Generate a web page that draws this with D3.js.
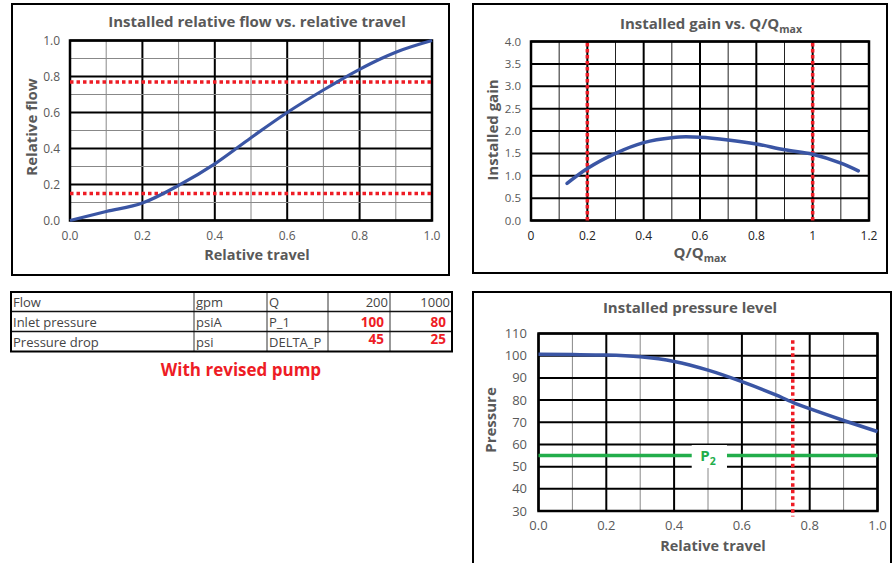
<!DOCTYPE html>
<html>
<head>
<meta charset="utf-8">
<script src="https://cdn.jsdelivr.net/npm/d3@7"></script>
<style>
  body { margin: 0; background: #fff; }
  svg { display: block; }
  text { font-family: "Open Sans", "DejaVu Sans", sans-serif; }
</style>
</head>
<body>
<svg id="chart" width="896" height="563"></svg>
<script>
// ---- data ----
// chart 1: installed relative flow vs. relative travel
const flowTravel = [0, 0.1, 0.2, 0.3, 0.4, 0.5, 0.6, 0.7, 0.8, 0.86, 0.9, 1.0];
const flowValues = [0, 0.05, 0.097, 0.195, 0.315, 0.46, 0.6, 0.725, 0.84, 0.9, 0.935, 1.0];
const flowLimits = [0.77, 0.15];
const flowTicks = [0, 0.2, 0.4, 0.6, 0.8, 1.0];

// chart 2: installed gain vs. Q/Qmax
const gainQ = [0.128, 0.2, 0.3, 0.4, 0.5, 0.55, 0.6, 0.7, 0.8, 0.9, 1.0, 1.1, 1.162];
const gainValues = [0.83, 1.16, 1.5, 1.74, 1.85, 1.87, 1.86, 1.8, 1.71, 1.58, 1.48, 1.28, 1.11];
const gainLimits = [0.2, 1.0];
const gainXTicks = [0, 0.2, 0.4, 0.6, 0.8, 1, 1.2];
const gainYTicks = [0, 0.5, 1, 1.5, 2, 2.5, 3, 3.5, 4];

// chart 3: installed pressure level
const pressTravel = [0, 0.1, 0.2, 0.3, 0.4, 0.5, 0.6, 0.7, 0.75, 0.8, 0.9, 1.0];
const pressValues = [100.6, 100.5, 100.3, 99.5, 97.4, 93.5, 88.3, 82.3, 79.0, 76.1, 70.8, 65.8];
const pressYTicks = [30, 40, 50, 60, 70, 80, 90, 100, 110];
const pressXTicks = [0, 0.2, 0.4, 0.6, 0.8, 1.0];
const p2Level = 55;
const travelMark = 0.75;
const travelMarkSpan = [27.5, 107];

// table
const tableRows = [
  ["Flow", "gpm", "Q", "200", "1000"],
  ["Inlet pressure", "psiA", "P_1", "100", "80"],
  ["Pressure drop", "psi", "DELTA_P", "45", "25"]
];
const tableCols = [11, 194, 267, 328, 390, 452];
const tableRowY = [292, 311.5, 331.5, 351.5];

const BLUE = "#3a55a4";
const RED = "#ee1c25";
const GREEN = "#22ad4b";
const GRAY = "#595959";

const svg = d3.select("#chart");

// panel borders
const panels = [
  [12, 4, 437, 271],
  [473, 4, 414, 269],
  [473, 292, 418, 290]
];
svg.selectAll("rect.panel")
  .data(panels)
  .join("rect")
  .attr("class", "panel")
  .attr("x", d => d[0]).attr("y", d => d[1])
  .attr("width", d => d[2]).attr("height", d => d[3])
  .attr("fill", "none").attr("stroke", "#000").attr("stroke-width", 2);

// grid helper
function grid(g, x, y, xs, ys, style) {
  xs.forEach(v => {
    const s = style.x(v);
    g.append("line")
      .attr("x1", x(v)).attr("x2", x(v))
      .attr("y1", y.range()[0]).attr("y2", y.range()[1])
      .attr("stroke", s.c).attr("stroke-width", s.w);
  });
  ys.forEach(v => {
    const s = style.y(v);
    g.append("line")
      .attr("y1", y(v)).attr("y2", y(v))
      .attr("x1", x.range()[0]).attr("x2", x.range()[1])
      .attr("stroke", s.c).attr("stroke-width", s.w);
  });
}
const isMajor = (v, step) => Math.abs(Math.round(v / step) * step - v) < 1e-6;

// ---------------- chart 1 ----------------
{
  const x = d3.scaleLinear().domain([0, 1]).range([70, 432]);
  const y = d3.scaleLinear().domain([0, 1]).range([220.5, 40.5]);
  const g = svg.append("g");
  const steps = d3.range(0, 1.0001, 0.1);
  grid(g, x, y, steps, steps, {
    x: v => isMajor(v, 0.2) ? {c: "#000", w: 2} : {c: "#888", w: 1},
    y: v => isMajor(v, 0.2) ? {c: "#000", w: 2} : {c: "#888", w: 1}
  });
  g.append("rect").attr("x", 70).attr("y", 40.5).attr("width", 362).attr("height", 180)
    .attr("fill", "none").attr("stroke", "#000").attr("stroke-width", 2.5);

  flowLimits.forEach(v => {
    g.append("line").attr("x1", x(0)).attr("x2", x(1)).attr("y1", y(v)).attr("y2", y(v))
      .attr("stroke", RED).attr("stroke-width", 3.5).attr("stroke-dasharray", "3.5,3");
  });

  g.append("path")
    .datum(flowTravel.map((t, i) => [t, flowValues[i]]))
    .attr("d", d3.line().x(d => x(d[0])).y(d => y(d[1])).curve(d3.curveMonotoneX))
    .attr("fill", "none").attr("stroke", BLUE).attr("stroke-width", 3.2);

  g.selectAll("text.yt").data(flowTicks).join("text")
    .attr("x", 60).attr("y", d => y(d) + 4).attr("text-anchor", "end")
    .attr("font-size", 12).attr("fill", GRAY).text(d => d.toFixed(1));
  g.selectAll("text.xt").data(flowTicks).join("text")
    .attr("x", d => x(d)).attr("y", 240).attr("text-anchor", "middle")
    .attr("font-size", 12).attr("fill", GRAY).text(d => d.toFixed(1));

  g.append("text").attr("x", 257).attr("y", 27).attr("text-anchor", "middle")
    .attr("font-size", 15).attr("font-weight", "bold").attr("fill", GRAY)
    .text("Installed relative flow vs. relative travel");
  g.append("text").attr("x", 257).attr("y", 260).attr("text-anchor", "middle")
    .attr("font-size", 14.5).attr("font-weight", "bold").attr("fill", GRAY)
    .text("Relative travel");
  g.append("text").attr("transform", "translate(37,127) rotate(-90)").attr("text-anchor", "middle")
    .attr("font-size", 15).attr("font-weight", "bold").attr("fill", GRAY)
    .text("Relative flow");
}

// ---------------- chart 2 ----------------
{
  const x = d3.scaleLinear().domain([0, 1.2]).range([531, 869]);
  const y = d3.scaleLinear().domain([0, 4]).range([220.5, 41.5]);
  const g = svg.append("g");
  grid(g, x, y, d3.range(0, 1.2001, 0.1), gainYTicks, {
    x: v => isMajor(v, 0.2) ? {c: "#000", w: 2} : {c: "#222", w: 1},
    y: () => ({c: "#000", w: 2})
  });
  g.append("rect").attr("x", 531).attr("y", 41.5).attr("width", 338).attr("height", 179)
    .attr("fill", "none").attr("stroke", "#000").attr("stroke-width", 2.5);

  gainLimits.forEach(v => {
    g.append("line").attr("x1", x(v)).attr("x2", x(v)).attr("y1", y(0)).attr("y2", y(4))
      .attr("stroke", RED).attr("stroke-width", 3.5).attr("stroke-dasharray", "3.5,2.5");
  });

  g.append("path")
    .datum(gainQ.map((q, i) => [q, gainValues[i]]))
    .attr("d", d3.line().x(d => x(d[0])).y(d => y(d[1])).curve(d3.curveMonotoneX))
    .attr("fill", "none").attr("stroke", BLUE).attr("stroke-width", 3.5)
    .attr("stroke-linecap", "round");

  g.selectAll("text.yt").data(gainYTicks).join("text")
    .attr("x", 521).attr("y", d => y(d) + 4).attr("text-anchor", "end")
    .attr("font-size", 11.5).attr("fill", GRAY).text(d => d.toFixed(1));
  g.selectAll("text.xt").data(gainXTicks).join("text")
    .attr("x", d => x(d)).attr("y", 240).attr("text-anchor", "middle")
    .attr("font-size", 12).attr("fill", "#222").text(d => d3.format("~g")(d));

  const t = g.append("text").attr("x", 711).attr("y", 29).attr("text-anchor", "middle")
    .attr("font-size", 15).attr("font-weight", "bold").attr("fill", GRAY);
  t.append("tspan").text("Installed gain vs. Q/Q");
  t.append("tspan").attr("font-size", 10.5).attr("dy", 4).text("max");

  const a = g.append("text").attr("x", 700).attr("y", 258).attr("text-anchor", "middle")
    .attr("font-size", 15).attr("font-weight", "bold").attr("fill", GRAY);
  a.append("tspan").text("Q/Q");
  a.append("tspan").attr("font-size", 10.5).attr("dy", 4).text("max");

  g.append("text").attr("transform", "translate(498,130) rotate(-90)").attr("text-anchor", "middle")
    .attr("font-size", 15).attr("font-weight", "bold").attr("fill", GRAY)
    .text("Installed gain");
}

// ---------------- chart 3 ----------------
{
  const x = d3.scaleLinear().domain([0, 1]).range([538.5, 877.5]);
  const y = d3.scaleLinear().domain([30, 110]).range([511, 333.5]);
  const g = svg.append("g");
  grid(g, x, y, d3.range(0, 1.0001, 0.1), pressYTicks, {
    x: v => isMajor(v, 0.2) ? {c: "#000", w: 2} : {c: "#888", w: 1},
    y: () => ({c: "#000", w: 2})
  });
  g.append("rect").attr("x", 538.5).attr("y", 333.5).attr("width", 339).attr("height", 177.5)
    .attr("fill", "none").attr("stroke", "#000").attr("stroke-width", 2.5);

  // P2 line with label
  g.append("line").attr("x1", x(0)).attr("x2", x(1)).attr("y1", y(p2Level)).attr("y2", y(p2Level))
    .attr("stroke", GREEN).attr("stroke-width", 3.5);
  g.append("rect").attr("x", x(0.452)).attr("y", y(p2Level) - 10.5)
    .attr("width", x(0.556) - x(0.452)).attr("height", 23).attr("fill", "#fff");
  const p = g.append("text").attr("x", x(0.5)).attr("y", y(p2Level) + 5).attr("text-anchor", "middle")
    .attr("font-size", 15).attr("font-weight", "bold").attr("fill", GREEN);
  p.append("tspan").text("P");
  p.append("tspan").attr("font-size", 10.5).attr("dy", 4).text("2");

  g.append("line").attr("x1", x(travelMark)).attr("x2", x(travelMark))
    .attr("y1", y(travelMarkSpan[1])).attr("y2", y(travelMarkSpan[0]))
    .attr("stroke", RED).attr("stroke-width", 3.5).attr("stroke-dasharray", "3.5,3");

  g.append("path")
    .datum(pressTravel.map((t, i) => [t, pressValues[i]]))
    .attr("d", d3.line().x(d => x(d[0])).y(d => y(d[1])).curve(d3.curveMonotoneX))
    .attr("fill", "none").attr("stroke", BLUE).attr("stroke-width", 3.5);

  g.selectAll("text.yt").data(pressYTicks).join("text")
    .attr("x", 527).attr("y", d => y(d) + 4.5).attr("text-anchor", "end")
    .attr("font-size", 13).attr("fill", GRAY).text(d => d);
  g.selectAll("text.xt").data(pressXTicks).join("text")
    .attr("x", d => x(d)).attr("y", 530).attr("text-anchor", "middle")
    .attr("font-size", 13).attr("fill", GRAY).text(d => d.toFixed(1));

  g.append("text").attr("x", 690).attr("y", 313).attr("text-anchor", "middle")
    .attr("font-size", 15).attr("font-weight", "bold").attr("fill", GRAY)
    .text("Installed pressure level");
  g.append("text").attr("x", 713).attr("y", 551).attr("text-anchor", "middle")
    .attr("font-size", 14.5).attr("font-weight", "bold").attr("fill", GRAY)
    .text("Relative travel");
  g.append("text").attr("transform", "translate(496,420) rotate(-90)").attr("text-anchor", "middle")
    .attr("font-size", 15).attr("font-weight", "bold").attr("fill", GRAY)
    .text("Pressure");
}

// ---------------- table ----------------
{
  const g = svg.append("g");
  tableCols.slice(1, -1).forEach(cx => {
    g.append("line").attr("x1", cx).attr("x2", cx).attr("y1", tableRowY[0]).attr("y2", tableRowY[3])
      .attr("stroke", "#333").attr("stroke-width", 1);
  });
  tableRowY.slice(1, -1).forEach(ry => {
    g.append("line").attr("x1", tableCols[0]).attr("x2", tableCols[5]).attr("y1", ry).attr("y2", ry)
      .attr("stroke", "#111").attr("stroke-width", 1.5);
  });
  g.append("rect").attr("x", tableCols[0]).attr("y", tableRowY[0])
    .attr("width", tableCols[5] - tableCols[0]).attr("height", tableRowY[3] - tableRowY[0])
    .attr("fill", "none").attr("stroke", "#000").attr("stroke-width", 2);

  tableRows.forEach((row, r) => {
    const base = tableRowY[r] + 15;
    row.forEach((cell, c) => {
      const red = r > 0 && c >= 3;
      const right = c >= 3;
      g.append("text")
        .attr("x", right ? tableCols[c + 1] - (red ? 6 : 2) : tableCols[c] + 2)
        .attr("y", red && r === 2 ? base - 3 : base)
        .attr("text-anchor", right ? "end" : "start")
        .attr("font-family", red ? "Open Sans" : "Liberation Sans, Arial, sans-serif")
        .attr("font-size", red ? 13.5 : 13)
        .attr("font-weight", red ? "bold" : "normal")
        .attr("fill", red ? RED : "#444")
        .text(cell);
    });
  });

  g.append("text").attr("x", 241).attr("y", 376).attr("text-anchor", "middle")
    .attr("font-size", 17).attr("font-weight", "bold").attr("fill", RED)
    .text("With revised pump");
}
</script>
</body>
</html>
